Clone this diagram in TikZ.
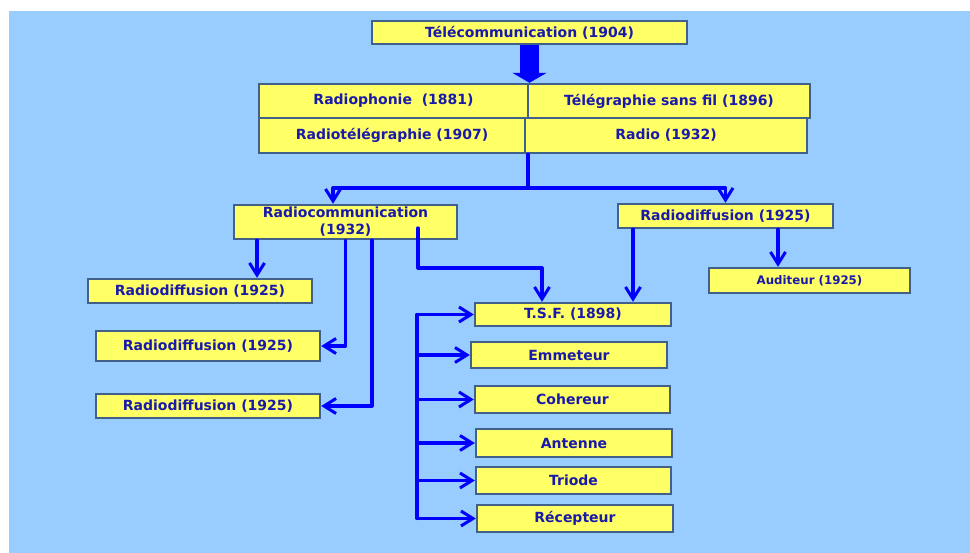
\documentclass[tikz,border=0pt]{standalone}
\usepackage{fontspec}
\setmainfont{DejaVu Sans}
\usetikzlibrary{arrows.meta,calc}
\definecolor{fond}{HTML}{99CCFF}
\definecolor{jaune}{HTML}{FFFF66}
\definecolor{bord}{HTML}{41618A}
\definecolor{texte}{HTML}{1A1AAA}
\definecolor{fleche}{HTML}{0000FF}
\tikzset{
    boite/.style={
        draw=bord, fill=jaune, line width=2.4pt,
        rectangle, inner sep=0pt, text=texte,
        font=\fontsize{14}{17}\selectfont\bfseries
    },
    lien/.style={line width=3.2pt, draw=fleche, line cap=round, line join=round},
    connect/.style={lien, -{Straight Barb[length=12pt,width=15pt,line width=3pt]}},
    x=1pt, y=-1pt
}

\begin{document}
\begin{tikzpicture}
    \useasboundingbox (0,0) rectangle (970,553);
    \fill[fond] (9,11) rectangle (970,553);

    % haut
    \node[boite, minimum width=315pt, minimum height=23pt] (telecom) at (529.5,32.5) {Télécommunication (1904)};
    \node[boite, minimum width=269pt, minimum height=34pt] (radiophonie) at (393.5,101) {Radiophonie\ \ (1881)};
    \node[boite, minimum width=282pt, minimum height=34pt] (tsfil) at (669,101) {Télégraphie sans fil (1896)};
    \node[boite, minimum width=266pt, minimum height=35pt] (radiotel) at (392,135.5) {Radiotélégraphie (1907)};
    \node[boite, minimum width=282pt, minimum height=35pt] (radio) at (666,135.5) {Radio (1932)};

    % milieu
    \node[boite, minimum width=223pt, minimum height=34pt, align=center] (radiocom) at (345.5,222) {Radiocommunication\\(1932)};
    \node[boite, minimum width=215pt, minimum height=24pt] (diffdroite) at (725.5,216) {Radiodiffusion (1925)};
    \node[boite, minimum width=201pt, minimum height=25pt, font=\fontsize{11.8}{14}\selectfont\bfseries] (auditeur) at (809.5,280.5) {Auditeur (1925)};

    % gauche
    \node[boite, minimum width=224pt, minimum height=24pt] (diffA) at (200,291) {Radiodiffusion (1925)};
    \node[boite, minimum width=224pt, minimum height=30pt] (diffB) at (208,346) {Radiodiffusion (1925)};
    \node[boite, minimum width=224pt, minimum height=24pt] (diffC) at (208,406) {Radiodiffusion (1925)};

    % T.S.F.
    \node[boite, minimum width=196pt, minimum height=23pt] (tsf) at (573,314.5) {T.S.F. (1898)};
    \node[boite, minimum width=196pt, minimum height=26pt] (emet) at (569,355) {Emmeteur};
    \node[boite, minimum width=195pt, minimum height=27pt] (coh) at (572.5,399.5) {Cohereur};
    \node[boite, minimum width=196pt, minimum height=28pt] (ant) at (574,443) {Antenne};
    \node[boite, minimum width=195pt, minimum height=27pt] (tri) at (573.5,480.5) {Triode};
    \node[boite, minimum width=196pt, minimum height=27pt] (recep) at (575,518.5) {Récepteur};

    \draw[line width=19pt, draw=fleche, -{Triangle[length=10pt,width=34pt]}] (telecom.south) -- (telecom.south |- radiophonie.north);

    \coordinate (noeud) at (528,188);
    \draw[lien] (noeud |- radio.south) -- (noeud);
    \draw[connect] (noeud) -| ([xshift=-12.5pt]radiocom.north);
    \draw[connect] (noeud) -| (diffdroite.north);

    \draw[connect] ([xshift=57pt]diffA.north |- radiocom.south) -- ([xshift=57pt]diffA.north);
    \draw[connect] (radiocom.south) |- (diffB.east);
    \draw[connect] ([xshift=26.5pt]radiocom.south) |- (diffC.east);
    \draw[connect] ([xshift=72.5pt,yshift=-6pt]radiocom.center) -- ++(0,40) -| ([xshift=-31pt]tsf.north);

    \draw[connect] ([xshift=60pt]tsf.north |- diffdroite.south) -- ([xshift=60pt]tsf.north);
    \draw[connect] ([xshift=-31.5pt]auditeur.north |- diffdroite.south) -- ([xshift=-31.5pt]auditeur.north);

    \coordinate (bus) at (417,0);
    \draw[lien] (bus |- tsf.west) -- (bus |- recep.west);
    \foreach \n in {tsf,emet,coh,ant,tri,recep}
        \draw[connect] (bus |- \n.west) -- (\n.west);
\end{tikzpicture}
\end{document}
